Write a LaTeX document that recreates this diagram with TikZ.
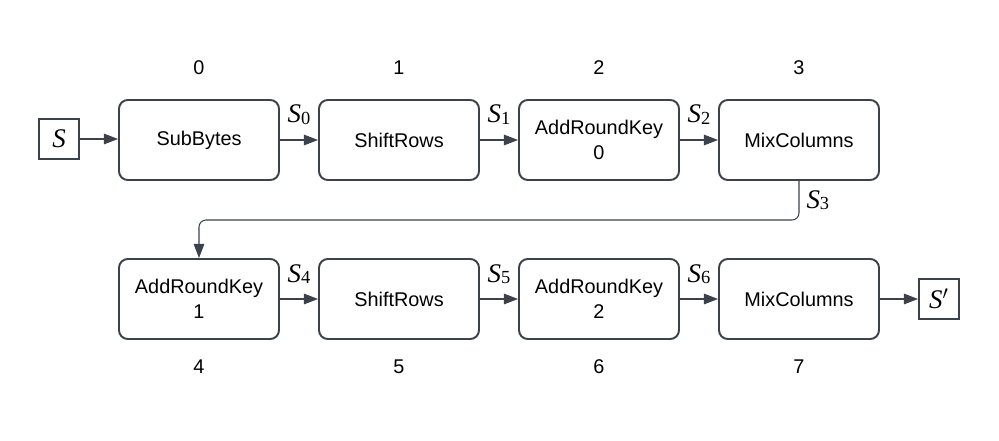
\documentclass[tikz,border=0pt]{standalone}
\usepackage{fontspec}
\setmainfont{Liberation Sans}
\newfontfamily\statefont{Liberation Serif}
\usetikzlibrary{arrows.meta}
\definecolor{boxgray}{HTML}{3B424B}
% state names S, S_i and S'
\newcommand{\stname}{{\statefont\fontsize{15.3}{16}\selectfont\itshape S}}
\newcommand{\stsub}[1]{\stname\raisebox{-0.08em}{\statefont\fontsize{10.5}{11}\selectfont #1}}
\newcommand{\stprime}{\stname{\fontsize{15.3}{16}\selectfont$'$}}

\begin{document}
\begin{tikzpicture}[
    stagebox/.style={draw=boxgray,line width=1.1pt,rounded corners=5pt,
      minimum width=3.2cm,minimum height=1.6cm,align=center,font=\fontsize{11.3}{14}\selectfont},
    statebox/.style={draw=boxgray,line width=1.1pt,minimum size=0.8cm,inner sep=0pt},
    conn/.style={draw=boxgray,line width=0.6pt,-{Triangle[length=8pt,width=6pt]}},
    idx/.style={font=\fontsize{11.3}{14}\selectfont},
    slabel/.style={inner sep=0pt,anchor=base,yshift=0.34cm}
  ]
      \useasboundingbox (0,0) rectangle (19.98,8.8);
      % first round
      \node[statebox] (s) at (1.18,6.02) {\stname};
      \node[stagebox] (sb) at (3.98,6.0) {SubBytes};
      \node[stagebox] (sr0) at (7.98,6.0) {ShiftRows};
      \node[stagebox] (ark0) at (11.98,6.0) {AddRoundKey\\0};
      \node[stagebox] (mc0) at (15.98,6.0) {MixColumns};
      % second round
      \node[stagebox] (ark1) at (3.98,2.82) {AddRoundKey\\1};
      \node[stagebox] (sr1) at (7.98,2.82) {ShiftRows};
      \node[stagebox] (ark2) at (11.98,2.82) {AddRoundKey\\2};
      \node[stagebox] (mc1) at (15.98,2.82) {MixColumns};
      \node[statebox] (sp) at (18.78,2.82) {\stprime};
      % indices
      \node[idx] (i0) at (3.98,7.44) {0};
      \node[idx] (i1) at (7.98,7.44) {1};
      \node[idx] (i2) at (11.98,7.44) {2};
      \node[idx] (i3) at (15.98,7.44) {3};
      \node[idx] (i4) at (3.98,1.46) {4};
      \node[idx] (i5) at (7.98,1.46) {5};
      \node[idx] (i6) at (11.98,1.46) {6};
      \node[idx] (i7) at (15.98,1.46) {7};
      % connectors
      \draw[conn] (s) -- (s -| sb.west);
      \draw[conn] (sb) -- node[slabel] {\stsub{0}} (sr0);
      \draw[conn] (sr0) -- node[slabel] {\stsub{1}} (ark0);
      \draw[conn] (ark0) -- node[slabel] {\stsub{2}} (mc0);
      \coordinate (turn) at (3.98,4.4);
      \draw[conn,rounded corners=4pt] (mc0.south) |- node[pos=0.35,inner sep=0pt,anchor=base west,xshift=0.14cm] {\stsub{3}} (turn) -- (ark1.north);
      \draw[conn] (ark1) -- node[slabel] {\stsub{4}} (sr1);
      \draw[conn] (sr1) -- node[slabel] {\stsub{5}} (ark2);
      \draw[conn] (ark2) -- node[slabel] {\stsub{6}} (mc1);
      \draw[conn] (mc1) -- (sp);
\end{tikzpicture}
\end{document}
